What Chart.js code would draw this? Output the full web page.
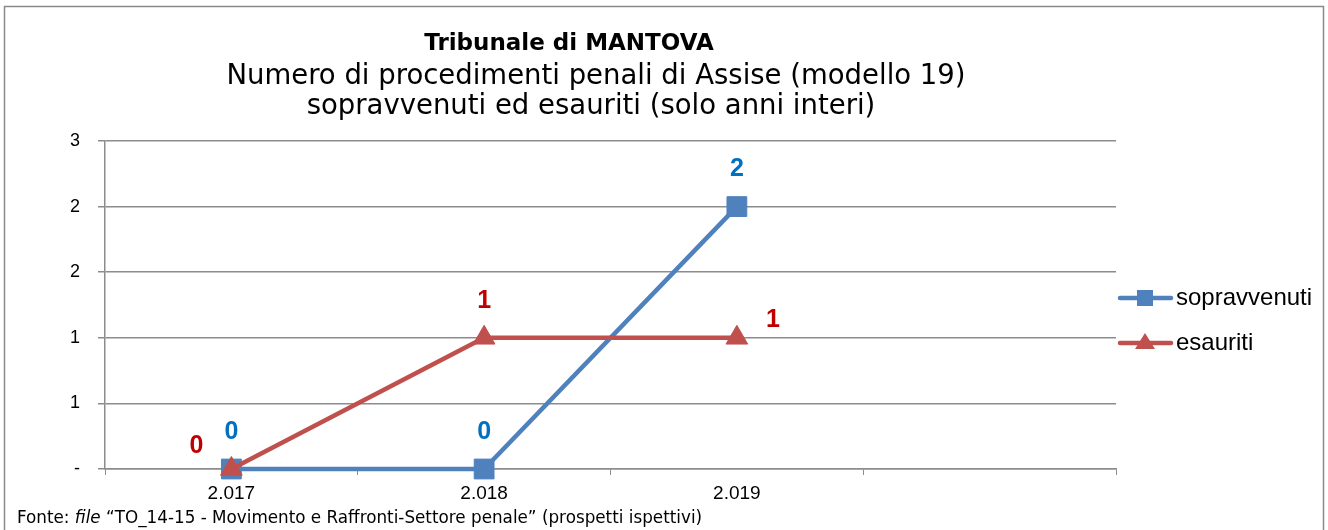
<!DOCTYPE html>
<html>
<head>
<meta charset="utf-8">
<script src="https://cdn.jsdelivr.net/npm/chart.js@4/dist/chart.umd.min.js"></script>
<style>
  html, body { margin: 0; padding: 0; background: #fff; }
  #wrap { position: relative; width: 1328px; height: 530px; }
</style>
</head>
<body>
<div id="wrap"><canvas id="chart" width="1328" height="530"></canvas></div>
<script>
const categories = ['2.017', '2.018', '2.019', ''];
const sopravvenuti = [0, 0, 2, null];
const esauriti = [0, 1, 1, null];
const yTickLabels = ['-', '1', '1', '2', '2', '3'];

const titleText = 'Tribunale di MANTOVA';
const subtitleLines = [
  'Numero di procedimenti penali di Assise (modello 19)',
  'sopravvenuti ed esauriti (solo anni interi)'
];

const BLUE = '#4f81bd';
const RED = '#c0504d';
const GRID = '#8c8c8c';

// where each value label sits relative to its point
const labelSpots = {
  top: [0, -37],
  left: [-35, -23],
  right: [36, -18]
};

const frameAndText = {
  id: 'frameAndText',
  beforeDraw(chart) {
    const ctx = chart.ctx;
    ctx.save();
    ctx.fillStyle = '#fff';
    ctx.fillRect(0, 0, chart.width, chart.height);
    ctx.strokeStyle = '#8a8a8a';
    ctx.lineWidth = 1.5;
    ctx.strokeRect(4.5, 6.5, 1319, 560);
    ctx.restore();
  },
  afterDraw(chart) {
    const ctx = chart.ctx;
    ctx.save();
    ctx.fillStyle = '#000';
    ctx.textAlign = 'center';
    ctx.textBaseline = 'middle';
    ctx.font = 'bold 23px "DejaVu Sans"';
    ctx.fillText(titleText, 569, 44);
    ctx.font = '27.5px "DejaVu Sans"';
    ctx.fillText(subtitleLines[0], 596, 77);
    ctx.fillText(subtitleLines[1], 591, 107);

    // footnote with italic word
    ctx.textAlign = 'left';
    let x = 17;
    const y = 519;
    const parts = [
      ['Fonte: ', ''],
      ['file', 'italic '],
      [' \u201cTO_14-15 - Movimento e Raffronti-Settore penale\u201d (prospetti ispettivi)', '']
    ];
    parts.forEach(([t, st]) => {
      ctx.font = st + '16.8px "DejaVu Sans"';
      ctx.fillText(t, x, y);
      x += ctx.measureText(t).width;
    });

    // legend
    const rows = [298, 343];
    chart.data.datasets.forEach((ds, i) => {
      const ly = rows[i];
      ctx.strokeStyle = ds.borderColor;
      ctx.lineWidth = 4.5;
      ctx.lineCap = 'round';
      ctx.beginPath();
      ctx.moveTo(1120, ly);
      ctx.lineTo(1171, ly);
      ctx.stroke();
      ctx.fillStyle = ds.backgroundColor;
      ctx.beginPath();
      if (ds.pointStyle === 'rect') {
        ctx.rect(1145 - 8, ly - 8, 16, 16);
      } else {
        ctx.moveTo(1145, ly - 10);
        ctx.lineTo(1155, ly + 6);
        ctx.lineTo(1135, ly + 6);
        ctx.closePath();
      }
      ctx.fill();
      ctx.fillStyle = '#000';
      ctx.font = '24px "Liberation Sans"';
      ctx.textAlign = 'left';
      ctx.fillText(ds.label, 1176, ly);
    });
    ctx.restore();
  }
};

const valueLabels = {
  id: 'valueLabels',
  afterDatasetsDraw(chart) {
    const ctx = chart.ctx;
    ctx.save();
    ctx.font = 'bold 25px "Liberation Sans"';
    ctx.textAlign = 'center';
    ctx.textBaseline = 'middle';
    chart.data.datasets.forEach((ds, i) => {
      const meta = chart.getDatasetMeta(i);
      meta.data.forEach((pt, j) => {
        const v = ds.data[j];
        if (v === null || v === undefined) return;
        const off = labelSpots[ds.labelPos[j]];
        ctx.fillStyle = ds.labelColor;
        ctx.fillText(String(v), pt.x + off[0], pt.y + off[1]);
      });
    });
    ctx.restore();
  }
};

new Chart(document.getElementById('chart'), {
  type: 'line',
  data: {
    labels: categories,
    datasets: [
      {
        label: 'sopravvenuti',
        data: sopravvenuti,
        borderColor: BLUE,
        backgroundColor: BLUE,
        borderWidth: 4.5,
        pointStyle: 'rect',
        pointRadius: 14,
        pointBorderWidth: 1,
        labelColor: '#0070c0',
        labelPos: ['top', 'top', 'top'],
        order: 2,
        clip: false
      },
      {
        label: 'esauriti',
        data: esauriti,
        borderColor: RED,
        backgroundColor: RED,
        borderWidth: 4.5,
        pointStyle: 'triangle',
        pointRadius: 12.5,
        pointBorderWidth: 1,
        labelColor: '#c00000',
        labelPos: ['left', 'top', 'right'],
        order: 1,
        clip: false
      }
    ]
  },
  options: {
    responsive: false,
    animation: false,
    layout: { padding: { top: 141, right: 212, bottom: 21, left: 0 } },
    plugins: {
      legend: { display: false },
      title: { display: false },
      tooltip: { enabled: false }
    },
    scales: {
      x: {
        offset: true,
        grid: {
          offset: true,
          drawOnChartArea: false,
          color: GRID,
          tickLength: 6
        },
        border: { color: GRID, width: 1.5 },
        ticks: {
          color: '#000',
          font: { family: 'Liberation Sans', size: 19 },
          padding: 7,
          maxRotation: 0
        },
        afterFit(s) { s.height = 40; }
      },
      y: {
        min: 0,
        max: 2.5,
        grid: { color: GRID, lineWidth: 1.5, tickLength: 7 },
        border: { color: GRID, width: 1.5 },
        ticks: {
          stepSize: 0.5,
          color: '#000',
          font: { family: 'Liberation Sans', size: 18 },
          padding: 18,
          callback: (v, i) => yTickLabels[i]
        },
        afterFit(s) { s.width = 105; }
      }
    }
  },
  plugins: [frameAndText, valueLabels]
});
</script>
</body>
</html>
